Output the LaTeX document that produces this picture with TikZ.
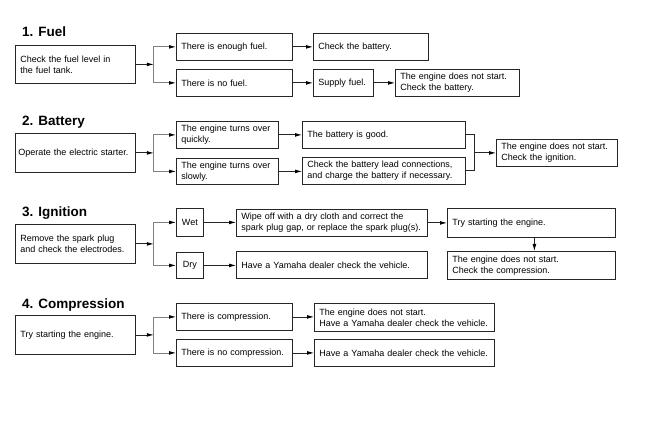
\documentclass[tikz,border=0pt]{standalone}
\usepackage{fontspec}
\setmainfont{Liberation Sans}
\usetikzlibrary{arrows.meta}
\tikzset{
  box/.style={draw=black!85, line width=0.8pt, inner xsep=5pt, inner ysep=0pt,
    anchor=north west, align=left, font=\fontsize{9}{11}\selectfont},
  ttl/.style={anchor=base west, inner sep=0pt, font=\bfseries\fontsize{13.5}{16}\selectfont},
  arr/.style={-{Latex[length=7pt,width=3.8pt,black]}, line width=0.8pt, draw=black!85},
  garr/.style={-{Latex[length=7pt,width=3.8pt,black]}, line width=0.8pt, draw=black!50},
  ln/.style={line width=0.8pt, draw=black!85}
}
\begin{document}
\begin{tikzpicture}[x=1pt,y=-1pt]
\fill[white] (0,0) rectangle (656,422);
\useasboundingbox (0,0) rectangle (656,422);
% ---- 1. Fuel
\node[ttl] (t1) at (22,37) {1. Fuel};
\node[box, minimum width=120pt, minimum height=38pt, text width=110pt] (f0) at (15,45) {Check the fuel level in\\the fuel tank.};
\node[box, minimum width=116pt, minimum height=27pt, text width=106pt] (f1) at (176,33) {There is enough fuel.};
\node[box, minimum width=116pt, minimum height=27pt, text width=106pt] (f2) at (176,69) {There is no fuel.};
\node[box, minimum width=115pt, minimum height=27pt, text width=105pt] (f3) at (313,33) {Check the battery.};
\node[box, minimum width=60pt, minimum height=27pt, text width=50pt] (f4) at (313,69) {Supply fuel.};
\node[box, minimum width=124pt, minimum height=27pt, text width=114pt] (f5) at (395,69) {The engine does not start.\\Check the battery.};
\path (f0.east) ++(18,0) coordinate (j1);
\draw[arr] (f0.east) -- (j1);
\draw[garr] (j1) |- (f1.west);
\draw[garr] (j1) |- (f2.west);
\draw[arr] (f1.east) -- (f3.west);
\draw[arr] (f2.east) -- (f4.west);
\draw[arr] (f4.east) -- (f5.west);
% ---- 2. Battery
\node[ttl] (t2) at (22,126) {2. Battery};
\node[box, minimum width=120pt, minimum height=39pt, inner xsep=3pt, text width=114pt] (b0) at (15,133) {Operate the electric starter.};
\node[box, minimum width=102pt, minimum height=27pt, text width=92pt] (b1) at (176,121) {The engine turns over\\quickly.};
\node[box, minimum width=102pt, minimum height=26pt, text width=92pt] (b2) at (176,158) {The engine turns over\\slowly.};
\node[box, minimum width=163pt, minimum height=27pt, text width=153pt] (b3) at (302,121) {The battery is good.};
\node[box, minimum width=163pt, minimum height=27pt, text width=153pt] (b4) at (302,157) {Check the battery lead connections,\\and charge the battery if necessary.};
\node[box, minimum width=121pt, minimum height=27pt, text width=111pt] (b5) at (496,139) {The engine does not start.\\Check the ignition.};
\path (b0.east) ++(18,0) coordinate (j2);
\draw[arr] (b0.east) -- (j2);
\draw[garr] (j2) |- (b1.west);
\draw[garr] (j2) |- (b2.west);
\draw[arr] (b1.east) -- (b1.east -| b3.west);
\draw[arr] (b2.east) -- (b2.east -| b4.west);
\path (b5.west) ++(-22,0) coordinate (m2);
\draw[ln] (b3.east) -| (m2);
\draw[ln] (b4.east) -| (m2);
\draw[arr] (m2) -- (b5.west);
% ---- 3. Ignition
\node[ttl] (t3) at (22,217) {3. Ignition};
\node[box, minimum width=120pt, minimum height=39pt, text width=110pt] (i0) at (15,224) {Remove the spark plug\\and check the electrodes.};
\node[box, minimum width=27pt, minimum height=28pt, inner xsep=0pt, align=center] (i1) at (176,208) {Wet};
\node[box, minimum width=27pt, minimum height=26pt, inner xsep=0pt, align=center] (i2) at (176,252) {Dry};
\node[box, minimum width=191pt, minimum height=27pt, text width=181pt] (i3) at (236,209) {Wipe off with a dry cloth and correct the\\spark plug gap, or replace the spark plug(s).};
\node[box, minimum width=191pt, minimum height=27pt, text width=181pt] (i4) at (236,251) {Have a Yamaha dealer check the vehicle.};
\node[box, minimum width=168pt, minimum height=29pt, text width=158pt] (i5) at (447,208) {Try starting the engine.};
\node[box, minimum width=168pt, minimum height=28pt, text width=158pt] (i6) at (447,251) {The engine does not start.\\Check the compression.};
\path (i0.east) ++(18,0) coordinate (j3);
\draw[arr] (i0.east) -- (j3);
\draw[garr] (j3) |- (i1.west);
\draw[garr] (j3) |- (i2.west);
\draw[arr] (i1.east) -- (i1.east -| i3.west);
\draw[arr] (i2.east) -- (i2.east -| i4.west);
\draw[arr] (i3.east) -- (i3.east -| i5.west);
\draw[arr] ([xshift=3pt]i5.south) -- ([xshift=3pt]i6.north);
% ---- 4. Compression
\node[ttl] (t4) at (22,308) {4. Compression};
\node[box, minimum width=120pt, minimum height=39pt, text width=110pt] (c0) at (15,315) {Try starting the engine.};
\node[box, minimum width=116pt, minimum height=27pt, text width=106pt] (c1) at (176,303) {There is compression.};
\node[box, minimum width=116pt, minimum height=27pt, text width=106pt] (c2) at (176,339) {There is no compression.};
\node[box, minimum width=180pt, minimum height=28pt, text width=170pt] (c3) at (314,303) {The engine does not start.\\Have a Yamaha dealer check the vehicle.};
\node[box, minimum width=180pt, minimum height=27pt, text width=170pt] (c4) at (314,339) {Have a Yamaha dealer check the vehicle.};
\path (c0.east) ++(18,0) coordinate (j4);
\draw[arr] (c0.east) -- (j4);
\draw[garr] (j4) |- (c1.west);
\draw[garr] (j4) |- (c2.west);
\draw[arr] (c1.east) -- (c1.east -| c3.west);
\draw[arr] (c2.east) -- (c2.east -| c4.west);
\end{tikzpicture}
\end{document}
